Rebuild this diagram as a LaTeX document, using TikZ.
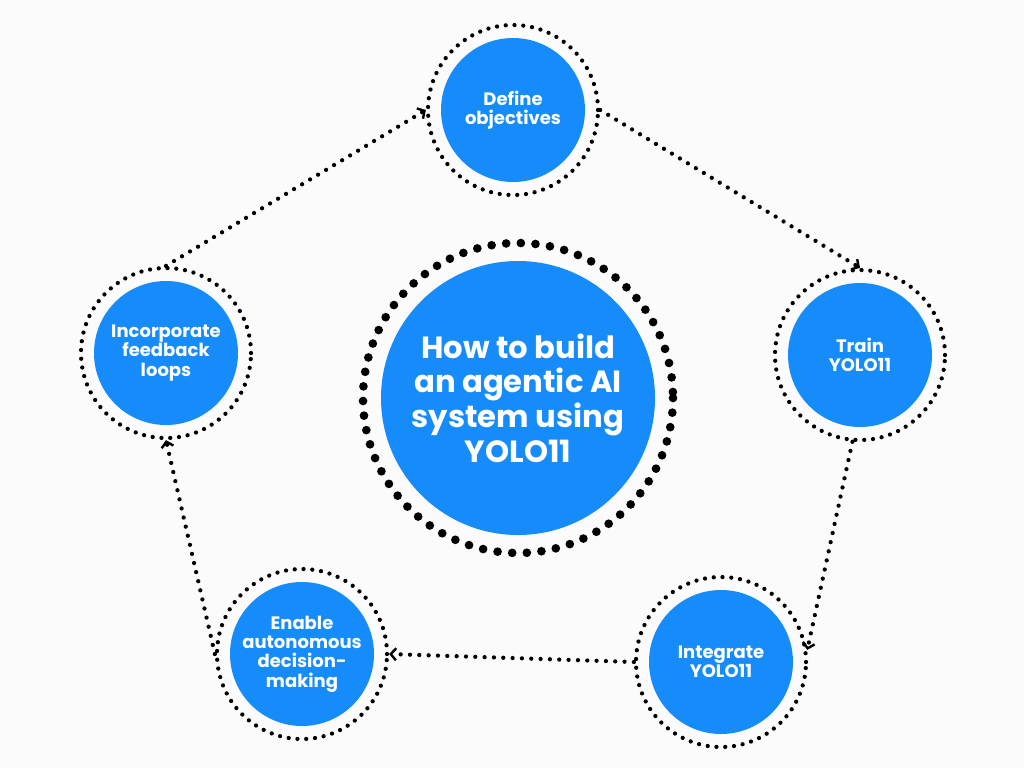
\documentclass[tikz,border=0pt]{standalone}
\usepackage{fontspec}
\setmainfont{Poppins}
\usetikzlibrary{arrows.meta}
\definecolor{stepblue}{HTML}{168BFA}
\definecolor{bgpaper}{HTML}{FBFBFB}
\tikzset{
  stage/.style={circle,fill=stepblue,text=white,minimum size=144*0.75pt,inner sep=0pt,
    align=center,font=\bfseries\fontsize{13.5}{14.5}\selectfont},
  ring/.style={circle,minimum size=170*0.75pt,inner sep=0pt,draw,line width=3.2pt,
    line cap=round,dash pattern=on 0pt off 6.6pt},
  flow/.style={line width=3.2pt,line cap=round,dash pattern=on 0pt off 7pt,
    -{Straight Barb[length=4pt,width=9pt,line width=1.8pt]}}
}
\begin{document}
\begin{tikzpicture}[x=0.75pt,y=-0.75pt]
\fill[bgpaper] (0,0) rectangle (1024,768);
\useasboundingbox (0,0) rectangle (1024,768);
% centre
\node[circle,fill=stepblue,text=white,minimum size=274*0.75pt,inner sep=0pt,align=center,
  font=\bfseries\fontsize{23}{26}\selectfont] (hub) at (518,398) {How to build\\an agentic AI\\system using\\YOLO11};
\draw[line width=6.5pt,line cap=round,dash pattern=on 0pt off 11pt] (hub.center) circle [radius=155];
% steps
\node[stage] (define) at (513,110) {Define\\objectives};
\node[stage] (train) at (860,355) {Train\\YOLO11};
\node[stage] (integrate) at (721,662) {Integrate\\YOLO11};
\node[stage] (enable) at (302,654) {Enable\\autonomous\\decision-\\making};
\node[stage] (feedback) at (166,353) {Incorporate\\feedback\\loops};
\foreach \n in {define,train,integrate,enable,feedback}
  \node[ring] (r-\n) at (\n) {};
% connectors
\draw[flow] (r-define.east) -- (r-train.north);
\draw[flow] (r-train.-95) -- (r-integrate.8);
\draw[flow] (r-integrate.west) -- (r-enable.east);
\draw[flow] (r-enable.180) -- (r-feedback.south);
\draw[flow] (r-feedback.north) -- (r-define.west);
\end{tikzpicture}
\end{document}
